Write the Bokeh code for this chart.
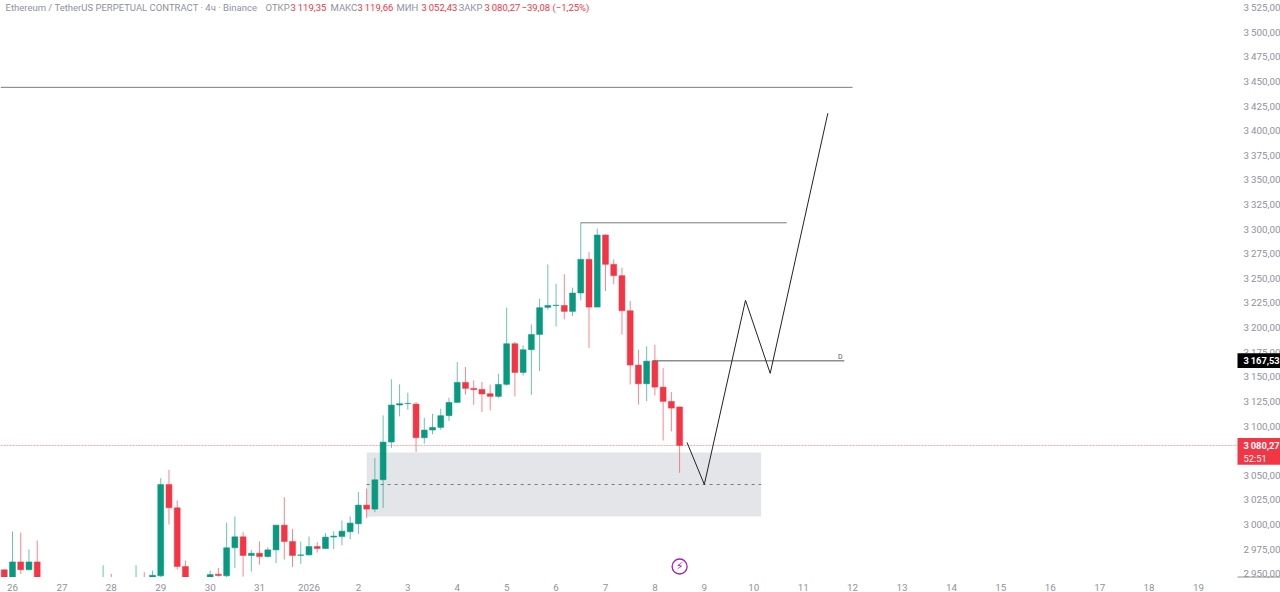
from bokeh.plotting import figure
from bokeh.models import Label, Range1d, FixedTicker, BoxAnnotation, ColumnDataSource
from bokeh.core.properties import value
from bokeh.embed import file_html
from bokeh.resources import INLINE

bar_index = [-1,0,1,2,3,11,12,15,16,17,18,19,20,21,24,25,26,27,28,29,30,31,32,33,34,35,36,37,38,39,40,41,42,43,44,45,46,47,48,49,50,51,52,53,54,55,56,57,58,59,60,61,62,63,64,65,66,67,68,69,70,71,72,73,74,75,76,77,78,79,80,81]
opens = [2953.9,2940,2962,2954,2962,2935,2940,2930,2940,2944,2947.8,3040.6,3016.9,2957.3,2940,2949.5,2947.8,2976.3,2987.4,2968.5,2970.8,2967.4,2974.2,2999.3,2982.7,2968.6,2969.1,2977.6,2975.6,2987.2,2987.8,2992.6,3000.7,3019.7,3015.6,3045.4,3083.7,3121.3,3122.7,3122.3,3088.1,3095.9,3098.6,3110.5,3124,3144.3,3138.2,3137.2,3132.8,3130.1,3142.3,3183.6,3154.4,3177.5,3193,3220.5,3222.3,3222.5,3216.4,3235.1,3269.3,3220.8,3294,3264.2,3252.7,3217.1,3161.9,3142.9,3165.9,3139.5,3125,3119.35]
highs = [2954,2992.9,2991.8,2974.6,2983.7,2958.6,2949.8,2958.6,2951.5,2953.2,3047.1,3055.5,3024.4,2963.4,2953.2,2955.9,3001.7,3008.1,2992.2,2974.2,2982.7,2976.9,2999.5,3027.7,2995.6,2982.7,2987.8,2982,2991.2,2993.2,3004,3008.1,3032.9,3036.3,3067.4,3110.8,3147.4,3142.3,3133.8,3124.3,3108.4,3112.5,3117.6,3128.8,3165,3159.9,3146.4,3144.7,3142,3153.1,3220.2,3185.3,3181.9,3203.2,3229.3,3264.2,3244.6,3254.1,3240.5,3306.6,3276.7,3300.5,3294.7,3269.3,3260.8,3226.9,3177.5,3180.9,3182.6,3158.8,3134.5,3119.66]
lows = [2938,2938,2949.8,2953.2,2930,2930,2930,2925,2930,2940,2945,3000,2954.2,2935,2935,2947,2946,2955.6,2947,2952.2,2959.3,2966.5,2960.7,2964.4,2956.6,2960,2968.5,2971.5,2975,2975,2978.7,2984.8,2990.5,3006.4,3012.5,3016.6,3077.6,3109.8,3116.6,3073.5,3082,3091.5,3096.2,3105,3123.3,3131.8,3121.6,3114.2,3115.9,3128.8,3141,3130,3151.4,3131.7,3155.8,3218.1,3201.2,3208.3,3211.7,3227.6,3179.5,3220.8,3237.1,3243.9,3193,3142.2,3121.9,3125.3,3131.1,3085.3,3094.5,3052.43]
closes = [2940,2962,2954,2962,2935,2940,2935,2940,2935,2948.5,3040.6,3016.9,2957.3,2940,2949.1,2948.1,2976.3,2987.4,2968.5,2970.8,2967.4,2974.2,2999.3,2982.7,2968.5,2969.1,2977.6,2975.6,2987.2,2988.2,2993.2,3001.4,3019.7,3015.6,3045.4,3083.7,3121.3,3122.7,3123,3088.1,3095.9,3098.6,3110.5,3124,3144.3,3138.2,3136.9,3132.5,3130.1,3142.3,3183.6,3154.4,3177.5,3193,3220.2,3222.5,3222.7,3216.4,3235.1,3269.3,3220.8,3294,3264.2,3252.7,3217.1,3161.9,3142.9,3165.9,3139.5,3125,3118.2,3080.27]

day_ticks = [0,6,12,18,24,30,36,42,48,54,60,66,72,78,84,90,96,102,108,114,120,126,132,138,144]
day_labels = ["26","27","28","29","30","31","2026","2","3","4","5","6","7","8","9","10","11","12","13","14","15","16","17","18","19"]
price_ticks = [2950 + 25 * k for k in range(24)]
price_labels = [f"{v // 1000}\u2009{v % 1000:03d},00" for v in price_ticks]

path_bars = [81.9, 84.0, 89.0, 92.0, 99.0]
path_prices = [3083.3, 3040.6, 3227.7, 3153.5, 3417.7]
top_level = 3444.0
high_level = 3306.4
high_from, high_to = 69.0, 94.0
daily_level = 3166.2
daily_from, daily_to = 77.7, 101.0
zone_top, zone_bottom, zone_mid = 3073.0, 3008.0, 3040.6
zone_from, zone_to = 43.0, 90.9
last_price = 3080.27

GREEN = "#089981"
RED = "#f23645"
GREY = "#8f929b"

X0, X1 = -1.457, 153.96     # window edges in bar units
Y0, Y1 = 2930.9, 3532.2     # window edges in price units
XS = 148.74                 # start of the price scale
YS = 2946.6                 # start of the time scale

p = figure(width=1280, height=592, frame_width=1280, frame_height=592,
           output_backend="svg", toolbar_location=None,
           x_range=Range1d(X0, X1), y_range=Range1d(Y0, Y1),
           y_axis_location="right", min_border=0, outline_line_color=None,
           background_fill_color="white", margin=(0, 0, 0, 0))
p.grid.visible = False

xa = p.xaxis[0]
xa.ticker = FixedTicker(ticks=day_ticks)
xa.major_label_overrides = dict(zip(day_ticks, day_labels))
xa.fixed_location = YS
ya = p.yaxis[0]
ya.ticker = FixedTicker(ticks=price_ticks)
ya.major_label_overrides = dict(zip(price_ticks, price_labels))
ya.fixed_location = XS
for ax in (xa, ya):
    ax.axis_line_color = None
    ax.major_tick_line_color = None
    ax.minor_tick_line_color = None
    ax.major_tick_out = 0
    ax.major_tick_in = 0
    ax.minor_tick_out = 0
    ax.major_label_text_color = GREY
    ax.major_label_text_font = "Roboto"
    ax.major_label_text_font_size = "9.8px"
xa.major_label_standoff = 7
ya.major_label_standoff = 6

up = [c >= o for o, c in zip(opens, closes)]
src = ColumnDataSource(dict(
    x=bar_index, o=opens, h=highs, l=lows, c=closes,
    top=[max(a, b) for a, b in zip(opens, closes)],
    bot=[min(a, b) for a, b in zip(opens, closes)],
    color=[GREEN if u else RED for u in up]))

p.add_layout(BoxAnnotation(left=zone_from, right=zone_to, top=zone_top, bottom=zone_bottom,
                           fill_color="#e4e5e9", fill_alpha=1, line_color=None, level="underlay"))
p.line([zone_from, zone_to], [zone_mid, zone_mid], line_color="#787b86", line_width=1.2, line_dash="3 4")
p.line([X0, XS], [last_price, last_price], line_color=RED, line_alpha=0.45, line_width=1, line_dash="2 1")

p.segment(x0="x", x1="x", y0="l", y1="h", color="color", line_width=1, line_alpha=0.6, source=src)
p.vbar(x="x", width=0.72, top="top", bottom="bot", fill_color="color", line_color="color",
       line_width=0.5, source=src)
# the time scale hides whatever lies below its top edge
p.quad(left=[X0], right=[X1], top=[YS], bottom=[Y0], fill_color="white", line_color=None)
p.line([XS, X1], [YS, YS], line_color="#8f929b", line_width=1)

p.line([X0, 102.0], [top_level, top_level], line_color="#787b86", line_width=1)
p.line([high_from, high_to], [high_level, high_level], line_color="#787b86", line_width=1)
p.line([daily_from, daily_to], [daily_level, daily_level], line_color="#555555", line_width=1)
p.line(path_bars, path_prices, line_color="#222222", line_width=1)
p.add_layout(Label(x=100.5, y=3170, text="D", text_font="Roboto", text_font_size="7px",
                   text_color="#555555", text_align="center", text_baseline="middle"))

p.scatter([81.0], [2957.3], size=15, marker="circle", fill_color="white", line_color="#9c27b0", line_width=1.3)
p.text([81.0], [2957.3], text=["\u26a1"], text_font=value("DejaVu Sans"), text_font_size="11px", text_color="#9c27b0",
       text_align="center", text_baseline="middle")

segs = [(5, "Ethereum / TetherUS PERPETUAL CONTRACT · 4ч · Binance", GREY),
        (265, "ОТКР", GREY), (290, "3\u2009119,35", RED),
        (330, "МАКС", GREY), (357, "3\u2009119,66", RED),
        (396, "МИН", GREY), (421, "3\u2009052,43", RED),
        (458, "ЗАКР", GREY), (484, "3\u2009080,27", RED),
        (521, "−39,08 (−1,25%)", RED)]
for xs, t, col in segs:
    p.add_layout(Label(x=xs, y=3525.0, x_units="screen", text=t, text_font="Roboto", text_font_size="9.5px",
                       text_color=col, text_baseline="middle"))

p.quad(left=[XS], right=[X1], top=[3174.0], bottom=[3158.9], fill_color="#000000", line_color=None, level="annotation")
p.quad(left=[XS], right=[X1], top=[3087.8], bottom=[3060.6], fill_color=RED, line_color=None, level="annotation")
for t, st, yy in [("3\u2009167,53", "bold", 3166.4), ("3\u2009080,27", "bold", last_price), ("52:51", "normal", 3067.4)]:
    p.add_layout(Label(x=1243, y=yy, x_units="screen", text=t, text_font="Roboto", text_font_size="9.3px",
                       text_font_style=st, text_color="white", text_baseline="middle", level="overlay"))

open("out.html", "w").write(file_html(p, INLINE))
